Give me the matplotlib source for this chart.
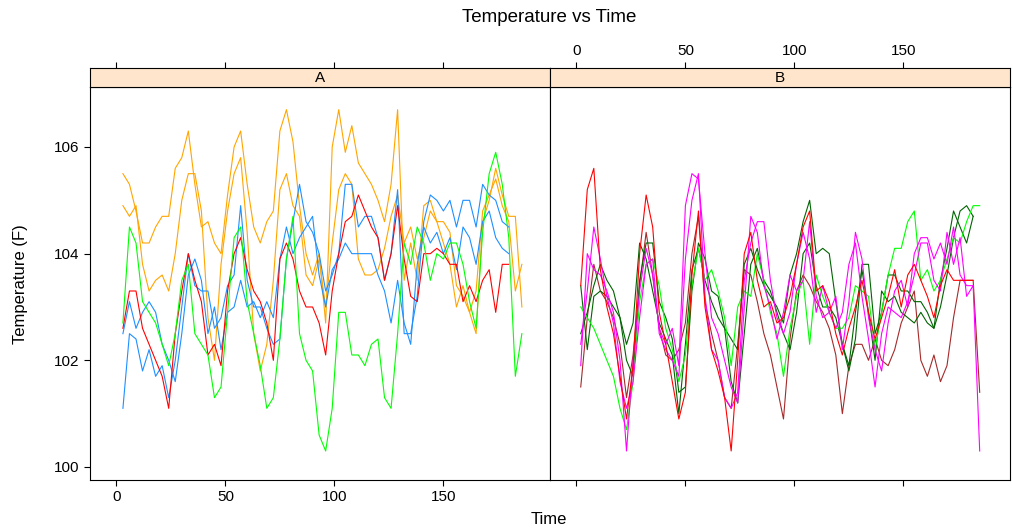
import numpy as np
import matplotlib
matplotlib.use("Agg")
import matplotlib.pyplot as plt

plt.rcParams['font.family'] = ['Liberation Sans', 'DejaVu Sans']

# time grids (every 3 time units) for the two panels
time_a = np.arange(3, 187, 3)
time_b = np.arange(2, 186, 3)
x_ticks = [0, 50, 100, 150]
y_ticks = [100, 102, 104, 106]

# panel A
orange_1 = [105.5, 105.3, 104.8, 104.2, 104.2, 104.5, 104.7, 104.7, 105.6, 105.8,
            106.3, 105.3, 104.5, 104.6, 104.2, 104.0, 105.1, 106.0, 106.3, 105.3,
            104.5, 104.2, 104.6, 104.8, 106.3, 106.7, 106.1, 104.9, 104.0, 103.6,
            104.0, 102.7, 106.0, 106.7, 105.9, 106.4, 105.7, 105.5, 105.3, 105.0,
            104.6, 105.3, 106.7, 103.5, 104.2, 103.5, 104.9, 105.0, 104.6, 104.6,
            104.4, 103.4, 103.2, 102.9, 102.5, 104.6, 105.0, 105.6, 105.1, 104.7,
            104.7, 103.0]
orange_2 = [104.9, 104.7, 104.9, 103.8, 103.3, 103.5, 103.6, 103.3, 104.0, 105.0,
            105.5, 105.5, 104.8, 102.8, 102.0, 103.8, 104.8, 105.5, 105.8, 104.4,
            102.5, 101.8, 102.3, 103.5, 105.2, 105.5, 104.9, 104.7, 103.6, 103.4,
            103.9, 103.0, 104.2, 105.2, 105.5, 105.3, 103.9, 103.6, 103.6, 103.7,
            104.1, 104.7, 105.1, 104.2, 104.5, 103.9, 104.3, 104.8, 104.6, 104.2,
            103.8, 103.0, 103.4, 102.9, 103.3, 104.8, 105.1, 105.4, 104.9, 104.6,
            103.3, 103.8]
blue_1 = [101.1, 102.5, 102.4, 101.8, 102.2, 101.7, 101.9, 101.3, 102.0, 103.0,
          104.0, 103.4, 103.3, 103.3, 102.6, 102.8, 103.4, 103.6, 104.9, 103.5,
          103.0, 103.0, 102.6, 102.3, 102.4, 103.9, 104.6, 105.3, 104.6, 104.4,
          104.0, 103.3, 103.6, 104.0, 105.3, 105.3, 104.5, 104.7, 104.7, 104.3,
          103.5, 104.0, 105.2, 102.5, 102.5, 103.2, 104.6, 105.1, 105.0, 104.8,
          105.0, 104.5, 105.0, 105.0, 104.5, 105.3, 105.1, 105.0, 104.6, 104.5]
blue_2 = [102.5, 103.1, 102.6, 102.9, 103.1, 102.9, 102.3, 102.0, 101.6, 102.5,
          103.6, 103.9, 103.5, 102.5, 103.0, 102.2, 102.9, 103.0, 103.5, 103.0,
          103.1, 102.8, 103.1, 102.8, 103.9, 104.5, 104.0, 104.3, 104.5, 104.7,
          103.6, 103.0, 103.7, 103.9, 104.2, 104.0, 104.0, 104.0, 104.0, 103.6,
          103.3, 102.7, 103.5, 102.7, 102.3, 103.8, 104.5, 104.2, 104.4, 104.0,
          104.3, 103.7, 104.5, 104.3, 103.8, 104.6, 104.8, 104.3, 104.1, 104.0]
red_a = [102.6, 103.3, 103.3, 102.6, 102.3, 102.0, 101.7, 101.1, 102.5, 103.3,
         104.0, 103.5, 103.1, 102.1, 102.3, 101.9, 103.3, 104.0, 104.3, 103.7,
         103.3, 103.1, 102.7, 102.0, 103.9, 104.2, 103.9, 103.3, 103.0, 103.0,
         102.7, 102.1, 103.3, 104.0, 104.6, 104.7, 105.1, 104.8, 104.5, 104.3,
         103.5, 104.0, 104.9, 103.9, 103.2, 103.1, 104.0, 104.0, 104.1, 104.0,
         103.8, 103.8, 103.1, 103.4, 103.1, 103.5, 103.7, 102.9, 103.8, 103.8]
green_a = [102.7, 104.5, 104.2, 103.1, 102.9, 102.7, 102.3, 101.9, 102.5, 103.5,
           103.8, 102.5, 102.3, 102.1, 101.3, 101.5, 102.9, 104.3, 104.5, 103.1,
           102.5, 101.9, 101.1, 101.3, 102.4, 103.9, 104.7, 102.5, 102.0, 101.8,
           100.6, 100.3, 101.1, 102.9, 102.9, 102.1, 102.1, 101.9, 102.3, 102.4,
           101.3, 101.1, 102.5, 104.2, 103.8, 104.5, 104.2, 103.5, 104.0, 103.9,
           104.2, 104.2, 103.8, 103.1, 102.6, 104.4, 105.5, 105.9, 105.3, 104.3,
           101.7, 102.5]

# panel B
red_b = [103.4, 105.2, 105.6, 103.7, 103.0, 102.5, 101.7, 100.9, 101.9, 104.0,
         105.1, 104.5, 102.9, 102.3, 101.6, 100.9, 101.4, 103.6, 104.8, 103.0,
         102.2, 101.8, 101.3, 100.3, 102.0, 104.0, 104.4, 103.5, 103.0, 103.1,
         102.7, 102.8, 103.2, 103.8, 104.5, 104.8, 103.3, 103.4, 103.1, 102.5,
         102.1, 102.6, 103.0, 103.5, 102.9, 102.4, 102.8, 103.2, 103.7, 103.0,
         103.6, 103.8, 103.5, 103.2, 102.8, 103.4, 103.7, 103.5, 103.5, 103.5,
         103.5]
magenta_1 = [101.9, 104.0, 103.7, 103.6, 103.3, 102.9, 102.0, 100.3, 102.0, 103.3,
             104.1, 103.6, 102.6, 102.3, 102.6, 101.9, 104.9, 105.5, 105.4, 104.0,
             102.8, 102.5, 102.0, 101.5, 101.2, 103.0, 104.7, 104.4, 103.4, 103.0,
             102.4, 102.9, 103.6, 103.3, 103.5, 104.6, 103.2, 102.8, 102.9, 102.6,
             102.9, 103.8, 104.2, 103.2, 102.4, 101.5, 102.5, 103.0, 102.9, 102.8,
             103.1, 103.6, 104.2, 104.2, 103.5, 103.3, 104.4, 103.8, 104.3, 103.2,
             103.4, 100.3]
magenta_2 = [102.3, 103.3, 104.5, 103.9, 103.2, 102.7, 101.6, 101.1, 101.6, 102.8,
             103.8, 103.9, 102.5, 102.2, 102.0, 101.7, 103.9, 105.0, 105.5, 103.2,
             102.2, 102.0, 101.3, 101.1, 101.4, 103.5, 104.2, 104.6, 104.6, 103.5,
             102.8, 102.5, 102.9, 103.8, 104.4, 103.9, 102.9, 103.4, 102.9, 103.2,
             102.2, 103.1, 104.4, 103.9, 102.8, 102.2, 101.8, 102.7, 103.3, 103.5,
             103.0, 104.0, 104.3, 104.3, 103.9, 104.2, 103.8, 104.5, 103.6, 103.4,
             103.4]
green_b = [103.0, 102.8, 102.6, 102.3, 102.0, 101.7, 101.1, 100.7, 101.6, 103.1,
           103.8, 103.9, 103.4, 102.6, 102.2, 101.6, 102.1, 103.4, 104.1, 103.5,
           103.7, 103.3, 102.8, 101.9, 103.0, 103.3, 103.2, 104.0, 103.5, 102.9,
           102.5, 101.7, 102.6, 103.2, 103.5, 102.3, 103.6, 103.2, 102.9, 102.6,
           102.6, 102.8, 103.4, 103.3, 103.2, 102.2, 102.9, 103.6, 104.1, 104.1,
           104.6, 104.8, 103.5, 103.7, 103.3, 103.5, 103.9, 104.3, 104.2, 104.6,
           104.9, 104.9]
darkgreen_1 = [103.4, 102.2, 103.2, 103.3, 103.2, 103.0, 102.8, 102.3, 102.7, 104.2,
               103.9, 103.3, 102.7, 102.4, 102.1, 101.0, 102.3, 103.7, 104.1, 103.5,
               103.1, 102.8, 102.6, 102.4, 102.2, 103.8, 104.1, 103.7, 103.4, 103.2,
               103.0, 102.7, 103.6, 104.0, 104.6, 105.0, 104.0, 104.1, 104.0, 103.1,
               102.3, 101.9, 102.9, 103.7, 102.9, 102.0, 103.3, 103.1, 103.2, 102.9,
               102.8, 102.7, 102.9, 102.7, 102.6, 103.5, 104.1, 104.8, 104.5, 104.2,
               104.7]
darkgreen_2 = [102.5, 102.9, 103.4, 103.8, 103.5, 103.3, 102.8, 102.0, 101.7, 103.5,
               104.2, 104.2, 103.1, 102.8, 102.4, 101.4, 101.5, 103.3, 104.2, 103.9,
               103.3, 103.2, 102.6, 101.6, 101.2, 102.5, 103.8, 104.1, 103.5, 103.3,
               102.9, 102.5, 102.2, 102.9, 104.0, 104.2, 103.4, 103.0, 103.0, 102.8,
               102.3, 101.8, 102.4, 103.8, 103.8, 102.5, 102.9, 103.6, 103.6, 103.3,
               103.3, 103.1, 103.1, 102.9, 102.6, 103.0, 103.6, 104.3, 104.8, 104.9,
               104.7]
brown_b = [101.5, 102.8, 103.8, 103.3, 103.1, 102.8, 102.3, 101.3, 102.1, 103.4,
           104.4, 103.6, 102.6, 102.1, 102.0, 102.2, 102.7, 104.0, 104.7, 103.1,
           102.5, 102.0, 101.3, 101.1, 102.3, 103.7, 103.6, 103.1, 102.5, 102.1,
           101.5, 100.9, 102.4, 103.3, 103.6, 103.4, 103.1, 102.9, 102.6, 102.1,
           101.0, 101.9, 102.3, 102.3, 102.0, 102.4, 102.0, 101.9, 102.2, 102.7,
           103.0, 103.3, 102.0, 101.7, 102.1, 101.6, 101.9, 102.8, 103.5, 103.5,
           103.5, 101.4]

panel_a = [(orange_1, "#FFA500"), (orange_2, "#FFA500"),
           (blue_1, "#1E90FF"), (blue_2, "#1E90FF"),
           (red_a, "#FF0000"), (green_a, "#00FF00")]
panel_b = [(brown_b, "#A52A2A"), (darkgreen_1, "#006400"), (darkgreen_2, "#006400"),
           (green_b, "#00FF00"), (magenta_1, "#FF00FF"), (magenta_2, "#FF00FF"),
           (red_b, "#FF0000")]

W, H = 1013, 531
fig = plt.figure(figsize=(W / 100, H / 100), dpi=100)

x_lim = (-12.1, 198.9)
y_lim = (99.756, 107.125)
tick_len = 4.3


def add_panel(left, series, times, name, top_labels, bottom_labels, left_labels):
    ax = fig.add_axes([left / W, 1 - 480 / H, 460 / W, 393 / H])
    for values, color in series:
        ax.plot(times[:len(values)], values, color=color, lw=0.8)
    ax.set_xlim(x_lim)
    ax.set_ylim(y_lim)
    ax.set_xticks(x_ticks)
    ax.set_yticks(y_ticks)
    ax.tick_params(direction="out", length=tick_len, width=0.8, labelsize=11,
                   pad=3, top=False, right=False)
    if not bottom_labels:
        ax.set_xticklabels([])
    if not left_labels:
        ax.tick_params(left=False, labelleft=False)
    for sp in ax.spines.values():
        sp.set_linewidth(0.8)

    # strip on top of the panel
    strip = fig.add_axes([left / W, 1 - 87 / H, 460 / W, 19 / H])
    strip.set_facecolor("#ffe5cc")
    strip.set_xlim(x_lim)
    strip.set_xticks(x_ticks)
    strip.set_yticks([])
    strip.xaxis.tick_top()
    strip.tick_params(direction="out", length=tick_len, width=0.8, labelsize=11, pad=3)
    if not top_labels:
        strip.set_xticklabels([])
    for sp in strip.spines.values():
        sp.set_linewidth(0.8)
    strip.text(0.5, 0.45, name, transform=strip.transAxes, ha="center",
               va="center", fontsize=11)
    return ax


add_panel(90, panel_a, time_a, "A", False, True, True)
add_panel(550, panel_b, time_b, "B", True, False, False)

fig.text(549 / W, 1 - 18 / H, "Temperature vs Time", ha="center", va="center", fontsize=13.5)
fig.text(549 / W, 1 - 520 / H, "Time", ha="center", va="center", fontsize=12)
fig.text(20 / W, 1 - 284 / H, "Temperature (F)", ha="center", va="center",
         rotation=90, fontsize=12)

plt.savefig("out.png", dpi=100)
